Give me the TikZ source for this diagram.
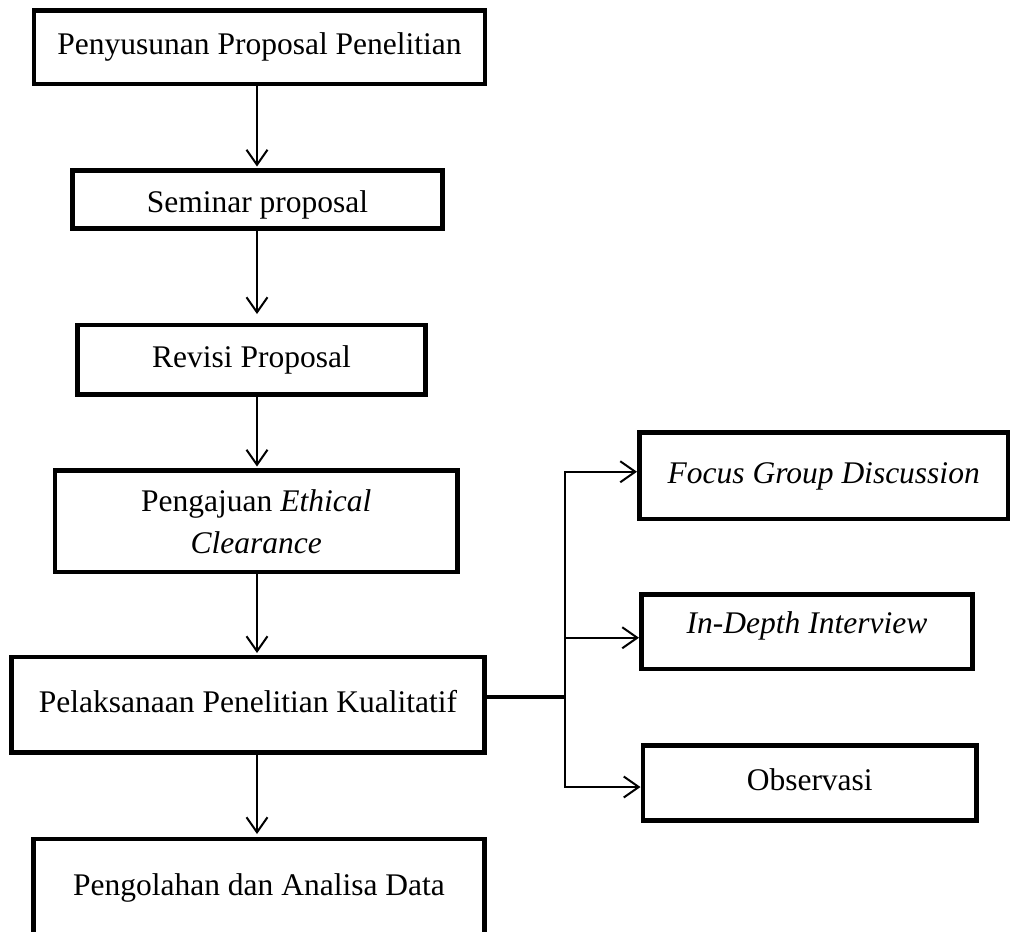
\documentclass[tikz,border=0pt]{standalone}
\usepackage{fontspec}
\setmainfont{Liberation Serif}
\usetikzlibrary{arrows.meta}
\begin{document}
\begin{tikzpicture}[x=1pt,y=-1pt,
  box/.style={draw, line width=4.5pt, inner sep=0pt, outer sep=0pt, align=center,
    font=\fontsize{31.5}{42}\selectfont},
  tb/.style={text height=22pt, text depth=7pt},
  arr/.style={line width=2pt, -{Straight Barb[length=15pt,width=21pt,line width=2pt]}},
  ln/.style={line width=2pt},
  thk/.style={line width=4pt}]
\useasboundingbox (0,0) rectangle (1010,932);

\node[box,tb,minimum width=451pt,minimum height=73.5pt] (b1) at (259.5,47.25) {Penyusunan Proposal Penelitian};
\node[box,text height=25pt,text depth=0pt,minimum width=370pt,minimum height=58pt] (b2) at (257.5,199.5) {Seminar proposal};
\node[box,tb,minimum width=348pt,minimum height=69.5pt] (b3) at (251.5,359.75) {Revisi Proposal};
\node[box,minimum width=402.5pt,minimum height=101.5pt] (b4) at (256.25,521.25) {Pengajuan \textit{Ethical}\\\textit{Clearance}};
\node[box,tb,minimum width=473pt,minimum height=95.5pt] (b5) at (248,704.75) {Pelaksanaan Penelitian Kualitatif};
\node[box,tb,minimum width=451pt,minimum height=97pt] (b6) at (259,887.5) {Pengolahan dan Analisa Data};
\node[box,tb,minimum width=368.5pt,minimum height=86.5pt] (fgd) at (823.75,475.75) {\textit{Focus Group Discussion}};
\node[box,text height=22pt,text depth=18pt,minimum width=331pt,minimum height=74.5pt] (idi) at (807,631.75) {\textit{In-Depth Interview}};
\node[box,tb,minimum width=333.5pt,minimum height=75pt] (obs) at (809.75,783) {Observasi};

\coordinate (ax) at (257,0);
\draw[arr,shorten >=4pt] (b1.south -| ax) -- (b2.north -| ax);
\draw[arr,shorten >=11pt] (b2.south -| ax) -- (b3.north -| ax);
\draw[arr,shorten >=4pt] (b3.south -| ax) -- (b4.north -| ax);
\draw[arr,shorten >=4pt] (b4.south -| ax) -- (b5.north -| ax);
\draw[arr,shorten >=5pt] (b5.south -| ax) -- (b6.north -| ax);

\coordinate (jn) at (565,697);
\draw[thk] (b5.east |- jn) -- (jn);
\draw[arr,shorten >=2.5pt] (jn) |- ([yshift=4pt]fgd.west);
\draw[arr,shorten >=2.5pt] (jn) |- ([yshift=-6pt]idi.west);
\draw[arr,shorten >=2.5pt] (jn) |- ([yshift=-4pt]obs.west);
\end{tikzpicture}
\end{document}
